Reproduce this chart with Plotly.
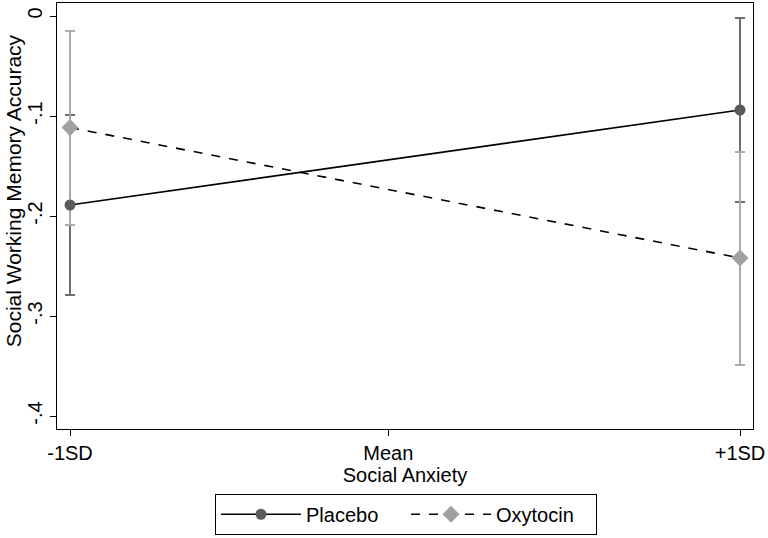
import plotly.graph_objects as go

# x positions of the two anxiety levels (-1SD, +1SD)
anxiety = [-1, 1]
tick_vals = [-1, -0.05, 1]
tick_text = ['-1SD', 'Mean', '+1SD']

placebo = [-0.189, -0.094]
placebo_lo = [-0.279, -0.186]
placebo_hi = [-0.099, -0.002]

oxytocin = [-0.1115, -0.242]
oxytocin_lo = [-0.209, -0.349]
oxytocin_hi = [-0.015, -0.136]

font = 'Liberation Sans, Arial, sans-serif'

fig = go.Figure()

# confidence interval caps first so the markers sit on top
for y, lo, hi, col in [(placebo, placebo_lo, placebo_hi, '#6e6e6e'),
                       (oxytocin, oxytocin_lo, oxytocin_hi, '#ababab')]:
    fig.add_trace(go.Scatter(
        x=anxiety, y=y, mode='markers', showlegend=False, hoverinfo='skip',
        marker=dict(size=1, color='rgba(0,0,0,0)'),
        error_y=dict(type='data', symmetric=False,
                     array=[h - v for h, v in zip(hi, y)],
                     arrayminus=[v - l for v, l in zip(y, lo)],
                     color=col, thickness=2, width=5)))

fig.add_trace(go.Scatter(
    x=anxiety, y=placebo, mode='lines+markers', name='Placebo',
    line=dict(color='black', width=1.6),
    marker=dict(symbol='circle', size=11, color='#5a5a5a')))
fig.add_trace(go.Scatter(
    x=anxiety, y=oxytocin, mode='lines+markers', name='Oxytocin',
    line=dict(color='black', width=1.6, dash='dash'),
    marker=dict(symbol='diamond', size=13, color='#a0a0a0')))

fig.update_layout(
    width=768, height=538,
    margin=dict(l=57, r=15, t=3, b=107),
    paper_bgcolor='white', plot_bgcolor='white',
    font=dict(family=font, size=20, color='black'),
    showlegend=True,
    legend=dict(orientation='h', x=0.227, xanchor='left', y=-0.152, yanchor='top',
                bordercolor='black', borderwidth=1, font=dict(size=20),
                itemwidth=80, entrywidth=95, bgcolor='white'),
    xaxis=dict(range=[-1.0388, 1.0388], tickvals=tick_vals, ticktext=tick_text,
               showgrid=False, zeroline=False, showline=True, linecolor='black',
               linewidth=1, mirror=True, ticks='outside', ticklen=6, tickcolor='black',
               automargin=False,
               title=dict(text='Social Anxiety', standoff=2, font=dict(size=20))),
    yaxis=dict(range=[-0.413, 0.013], tickvals=[0, -0.1, -0.2, -0.3, -0.4],
               ticktext=['0', '-.1', '-.2', '-.3', '-.4'], tickangle=-90,
               showgrid=False, zeroline=False, showline=True, linecolor='black',
               linewidth=1, mirror=True, ticks='outside', ticklen=6, tickcolor='black',
               automargin=False),
)

# y title placed by hand to sit like the original
fig.add_annotation(text='Social Working Memory Accuracy', textangle=-90,
                   xref='paper', yref='paper', x=0, y=0.558, xshift=-44,
                   xanchor='center', yanchor='middle',
                   showarrow=False, font=dict(size=21))

fig.write_html("out.html", post_script="document.body.style.margin='0';",
               config=dict(displayModeBar=False))
